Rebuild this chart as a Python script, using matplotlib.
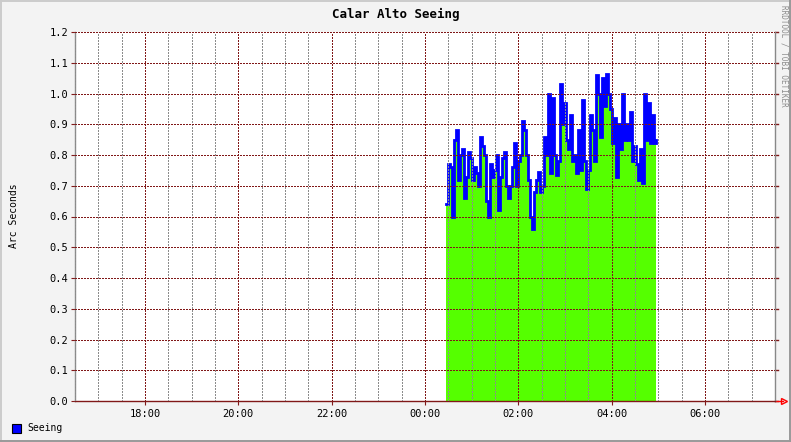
import matplotlib
matplotlib.use("Agg")
import matplotlib.pyplot as plt
import matplotlib.dates as mdates
from matplotlib.lines import Line2D
from matplotlib.patches import Rectangle
import pandas as pd

# Seeing samples (arc seconds), one every ~2.6 min starting 00:27
seeing = [
    0.64, 0.77, 0.76, 0.60, 0.85, 0.88, 0.72, 0.80, 0.82, 0.66,
    0.73, 0.81, 0.79, 0.72, 0.76, 0.74, 0.70, 0.86, 0.83, 0.80,
    0.65, 0.60, 0.77, 0.73, 0.75, 0.80, 0.62, 0.73, 0.79, 0.81,
    0.70, 0.66, 0.70, 0.76, 0.84, 0.70, 0.78, 0.80, 0.91, 0.88,
    0.80, 0.72, 0.60, 0.56, 0.68, 0.72, 0.745, 0.68, 0.70, 0.86,
    0.80, 1.00, 0.74, 0.985, 0.80, 0.735, 0.78, 1.03, 0.90, 0.97,
    0.85, 0.82, 0.93, 0.78, 0.80, 0.74, 0.88, 0.75, 0.98, 0.78,
    0.69, 0.75, 0.93, 0.88, 0.78, 1.06, 1.00, 0.86, 1.05, 0.96,
    1.063, 1.00, 0.95, 0.84, 0.92, 0.73, 0.90, 0.82, 1.00, 0.85,
    0.90, 0.85, 0.94, 0.78, 0.83, 0.77, 0.72, 0.82, 0.71, 1.00,
    0.85, 0.97, 0.84, 0.93, 0.84, 0.85,
]
start_time = "2008-06-11 00:27"
sample_step = "154s"
view_start = pd.Timestamp("2008-06-10 16:30")
view_end = pd.Timestamp("2008-06-11 07:30")
y_ticks = [round(0.1 * i, 1) for i in range(13)]

times = pd.date_range(start_time, periods=len(seeing), freq=sample_step)

GRID_MAJOR = "#801818"
GRID_MINOR = "#8c8c8c"
MONO = "DejaVu Sans Mono"

fig = plt.figure(figsize=(7.91, 4.42), dpi=100)
fig.patch.set_facecolor("#f3f3f3")
W, H = 791, 442
ax = fig.add_axes([75 / W, 41 / H, 700 / W, 369 / H])
ax.set_facecolor("white")

# data
ax.fill_between(times, seeing, step="post", color="#55ff00", lw=0, zorder=1)
ax.step(times, seeing, where="post", color="#0000ff", lw=2.0, zorder=2,
        solid_joinstyle="miter")

ax.set_xlim(view_start, view_end)
ax.set_ylim(0, 1.2)

# grid drawn over the data, rrdtool style (1px on / 1px off)
px = 0.72
grid_kw = dict(lw=px, dashes=(1.4, 1.4), zorder=3, antialiased=False)
minor_times = pd.date_range(view_start, view_end, freq="30min")
for t in minor_times:
    if t.minute == 0 and t.hour % 2 == 0:
        ax.axvline(t, color=GRID_MAJOR, **grid_kw)
    else:
        ax.axvline(t, color=GRID_MINOR, **grid_kw)
for v in y_ticks:
    ax.axhline(v, color=GRID_MAJOR, **grid_kw)

ax.set_yticks(y_ticks)
ax.set_yticklabels([f"{v:.1f}" for v in y_ticks])
ax.xaxis.set_major_locator(mdates.HourLocator(byhour=range(0, 24, 2)))
ax.xaxis.set_major_formatter(mdates.DateFormatter("%H:%M"))
ax.tick_params(axis="both", labelsize=7.5, colors=GRID_MAJOR, length=3, width=0.8,
               labelcolor="black")
ax.tick_params(axis="x", pad=3)
ax.tick_params(axis="y", pad=2)
for lab in ax.get_xticklabels() + ax.get_yticklabels():
    lab.set_family(MONO)

ax.spines["top"].set_visible(False)
ax.spines["left"].set_color("#888888")
ax.spines["right"].set_color("#888888")
ax.spines["left"].set_linewidth(1)
ax.spines["right"].set_linewidth(1)
ax.spines["bottom"].set_color(GRID_MAJOR)
ax.spines["bottom"].set_linewidth(1)

# right-hand ticks
for v in y_ticks:
    ax.plot([1.0, 1.0 + 3 / 700], [v / 1.2] * 2, transform=ax.transAxes,
            color=GRID_MAJOR, lw=1, clip_on=False)

# x axis arrow
ax.plot([1.0, 1.012], [0, 0], transform=ax.transAxes, color="red", lw=1, clip_on=False)
ax.plot([1.013], [0], transform=ax.transAxes, marker=">", ms=5, mfc="none",
        mec="red", mew=1, clip_on=False)

# texts
fig.text(0.5, 1 - 14 / H, "Calar Alto Seeing", ha="center", va="center",
         family=MONO, fontsize=9, fontweight="bold")
fig.text(14 / W, 1 - 216 / H, "Arc Seconds", ha="center", va="center",
         rotation=90, family=MONO, fontsize=7)
fig.text(784 / W, 1 - 5 / H, "RRDTOOL / TOBI OETIKER", ha="center", va="top",
         rotation=-90, family=MONO, fontsize=5.5, color="#8c8c8c")

# legend
fig.patches.append(Rectangle((12 / W, 1 - 433 / H), 9 / W, 9 / H,
                             transform=fig.transFigure, facecolor="#0000ff",
                             edgecolor="black", lw=0.8))
fig.text(27 / W, 1 - 428 / H, "Seeing", ha="left", va="center", family=MONO,
         fontsize=7)

# rrdtool frame
fig.lines.append(Line2D([0, 1], [1 - 0.5 / H] * 2, transform=fig.transFigure,
                        color="#cbcbcb", lw=1.4))
fig.lines.append(Line2D([0.5 / W] * 2, [0, 1], transform=fig.transFigure,
                        color="#cbcbcb", lw=1.4))
fig.lines.append(Line2D([0, 1], [1 / H] * 2, transform=fig.transFigure,
                        color="#999999", lw=1.4))
fig.lines.append(Line2D([1 - 1 / W] * 2, [0, 1], transform=fig.transFigure,
                        color="#999999", lw=1.4))

fig.savefig("out.png", dpi=100, facecolor=fig.get_facecolor())
